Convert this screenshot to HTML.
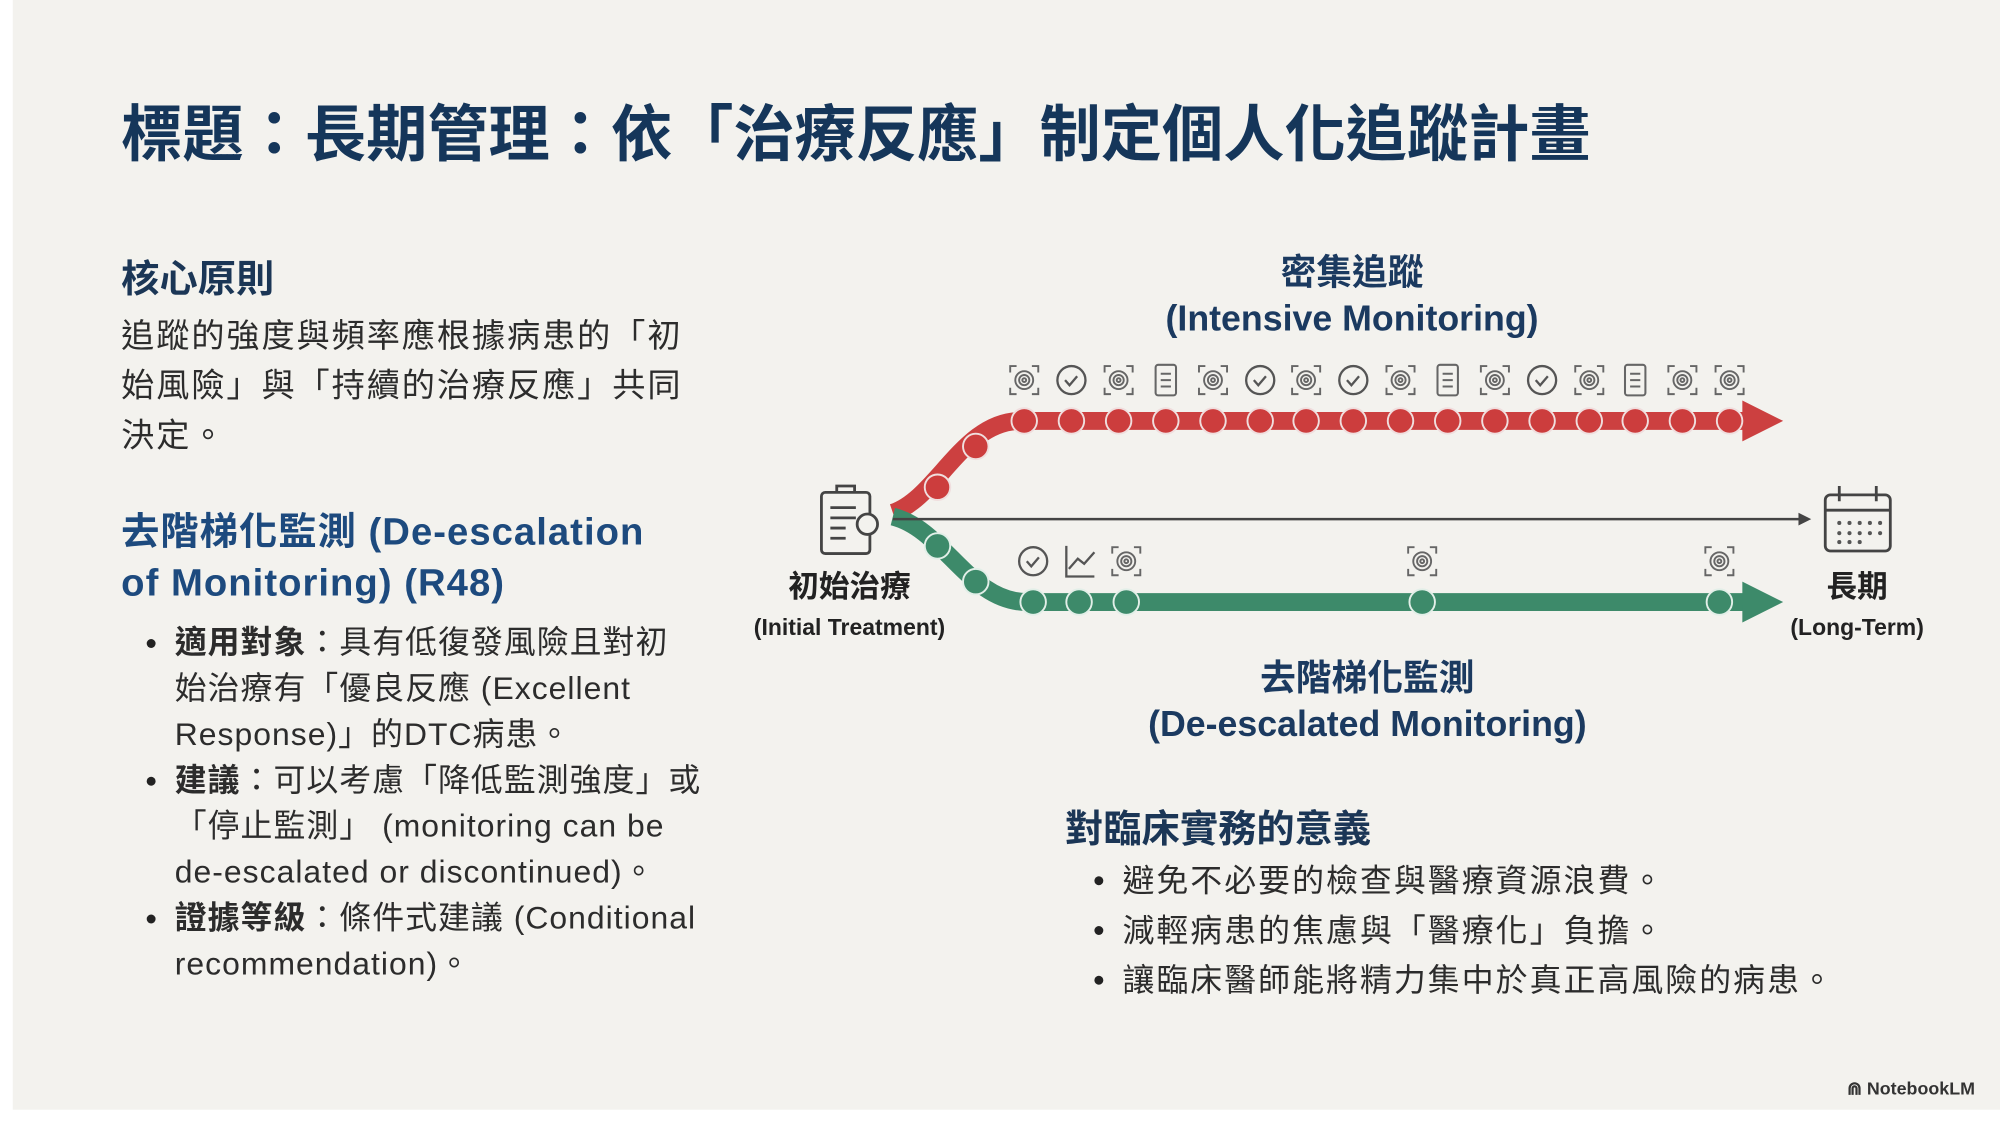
<!DOCTYPE html>
<html><head><meta charset="utf-8">
<style>
html,body{margin:0;padding:0;width:2000px;height:1126px;overflow:hidden;background:#fff;}
#s{position:absolute;left:0;top:0;width:1568px;height:883px;transform:scale(1.27551);transform-origin:0 0;font-family:"Liberation Sans","Noto Sans CJK TC",sans-serif;}
#bg{position:absolute;left:10px;top:0;width:1558px;height:870px;background:#f3f2ee;}
.t{position:absolute;white-space:nowrap;}
.navy{color:#1b3656;font-weight:bold;}
.body{color:#2c2c2c;font-size:26px;letter-spacing:1.5px;}
.ul{position:absolute;margin:0;padding:0;list-style:none;color:#2c2c2c;font-size:25px;line-height:36px;letter-spacing:0.8px;}
.ul li{position:relative;padding-left:22px;}
.ul li:before{content:"";position:absolute;left:0;top:15px;width:7px;height:7px;border-radius:50%;background:#222;}
</style></head><body>
<div id="s">
<div id="bg"></div>
<div class="t navy" style="left:95px;top:66px;font-size:48px;color:#15365a;">標題：長期管理：依「治療反應」制定個人化追蹤計畫</div>
<div class="t navy" style="left:95px;top:194px;font-size:30px;">核心原則</div>
<div class="t body" style="left:95px;top:244px;line-height:39px;">追蹤的強度與頻率應根據病患的「初<br>始風險」與「持續的治療反應」共同<br>決定。</div>
<div class="t navy" style="left:95px;top:398px;font-size:30px;line-height:40px;color:#1d4a7e;letter-spacing:0.8px;">去階梯化監測 (De-escalation<br>of Monitoring) (R48)</div>
<ul class="ul" style="left:115px;top:486px;width:470px;">
<li><b>適用對象</b>：具有低復發風險且對初<br>始治療有「優良反應 (Excellent<br>Response)」的DTC病患。</li>
<li><b>建議</b>：可以考慮「降低監測強度」或<br>「停止監測」 (monitoring can be<br>de-escalated or discontinued)。</li>
<li><b>證據等級</b>：條件式建議 (Conditional<br>recommendation)。</li>
</ul>
<div class="t navy" style="left:860px;top:196px;width:400px;text-align:center;font-size:28px;line-height:36px;color:#1b3a60;">密集追蹤<br>(Intensive Monitoring)</div>
<div class="t navy" style="left:872px;top:514px;width:400px;text-align:center;font-size:28px;line-height:36px;color:#1b3a60;">去階梯化監測<br>(De-escalated Monitoring)</div>
<div class="t" style="left:566px;top:446px;width:200px;text-align:center;font-size:24px;font-weight:bold;color:#222;line-height:30px;">初始治療<br><span style="font-size:18px;">(Initial Treatment)</span></div>
<div class="t" style="left:1356px;top:446px;width:200px;text-align:center;font-size:24px;font-weight:bold;color:#222;line-height:30px;">長期<br><span style="font-size:18px;">(Long-Term)</span></div>
<div class="t navy" style="left:835px;top:625px;font-size:30px;">對臨床實務的意義</div>
<ul class="ul" style="left:858px;top:672px;line-height:39px;letter-spacing:1.6px;">
<li>避免不必要的檢查與醫療資源浪費。</li>
<li>減輕病患的焦慮與「醫療化」負擔。</li>
<li>讓臨床醫師能將精力集中於真正高風險的病患。</li>
</ul>
<div class="t" style="left:1448px;top:845px;font-size:14px;font-weight:bold;color:#333;">⋒ NotebookLM</div>
<svg style="position:absolute;left:0;top:0" width="1568" height="883" viewBox="0 0 1568 883">
<defs>
<g id="fp" fill="none" stroke="#666" stroke-width="1.5"><path d="M-11,-6v-5h5M6,-11h5v5M11,6v5h-5M-6,11h-5v-5"/><circle r="7"/><circle r="4"/><circle r="1.5"/></g>
<g id="ck" fill="none" stroke="#555" stroke-width="1.8"><circle r="11"/><path d="M-5,0l3.5,4 6-7"/></g>
<g id="dc" fill="none" stroke="#666" stroke-width="1.6"><rect x="-8" y="-12" width="16" height="24" rx="2"/><path d="M-4,-5h8M-4,0h8M-4,5h8"/></g>
<g id="rd"><circle r="10" fill="#cc3d3d" stroke="#f0dede" stroke-width="1.5"/></g>
<g id="gd"><circle r="10" fill="#3d8a6a" stroke="#e2efe8" stroke-width="1.5"/></g>
</defs>
<path d="M700,402 C735,390 755,330 800,330 L1372,330" fill="none" stroke="#cc4040" stroke-width="14"/>
<polygon points="1366,314 1398,330 1366,346" fill="#cc4040"/>
<g>
<use href="#rd" x="735" y="382"/><use href="#rd" x="765" y="350"/>
<use href="#rd" x="803" y="330"/><use href="#rd" x="840" y="330"/><use href="#rd" x="877" y="330"/><use href="#rd" x="914" y="330"/><use href="#rd" x="951" y="330"/><use href="#rd" x="988" y="330"/><use href="#rd" x="1024" y="330"/><use href="#rd" x="1061" y="330"/><use href="#rd" x="1098" y="330"/><use href="#rd" x="1135" y="330"/><use href="#rd" x="1172" y="330"/><use href="#rd" x="1209" y="330"/><use href="#rd" x="1246" y="330"/><use href="#rd" x="1282" y="330"/><use href="#rd" x="1319" y="330"/><use href="#rd" x="1356" y="330"/>
</g>
<g>
<use href="#fp" x="803" y="298"/><use href="#ck" x="840" y="298"/><use href="#fp" x="877" y="298"/><use href="#dc" x="914" y="298"/><use href="#fp" x="951" y="298"/><use href="#ck" x="988" y="298"/><use href="#fp" x="1024" y="298"/><use href="#ck" x="1061" y="298"/><use href="#fp" x="1098" y="298"/><use href="#dc" x="1135" y="298"/><use href="#fp" x="1172" y="298"/><use href="#ck" x="1209" y="298"/><use href="#fp" x="1246" y="298"/><use href="#dc" x="1282" y="298"/><use href="#fp" x="1319" y="298"/><use href="#fp" x="1356" y="298"/>
</g>
<path d="M700,405 C740,415 760,472 805,472 L1372,472" fill="none" stroke="#3d8a6a" stroke-width="14"/>
<polygon points="1366,456 1398,472 1366,488" fill="#3d8a6a"/>
<use href="#gd" x="735" y="428"/><use href="#gd" x="765" y="456"/>
<use href="#gd" x="810" y="472"/><use href="#gd" x="846" y="472"/><use href="#gd" x="883" y="472"/><use href="#gd" x="1115" y="472"/><use href="#gd" x="1348" y="472"/>
<use href="#ck" x="810" y="440"/>
<g fill="none" stroke="#555" stroke-width="1.8"><path d="M836,428v24h22M838,446l7-8 5,4 8-9"/></g>
<use href="#fp" x="883" y="440"/><use href="#fp" x="1115" y="440"/><use href="#fp" x="1348" y="440"/>
<line x1="700" y1="407" x2="1412" y2="407" stroke="#444" stroke-width="2"/>
<polygon points="1410,402 1420,407 1410,412" fill="#444"/>
<g fill="none" stroke="#444" stroke-width="2.2">
<rect x="644" y="386" width="38" height="48" rx="3"/>
<path d="M656,386v-5h14v5M651,398h20M651,406h20M651,414h12M651,422h12"/>
<circle cx="680" cy="411" r="8" fill="#f3f2ee"/>
</g>
<g fill="none" stroke="#444" stroke-width="2.2">
<rect x="1431" y="388" width="51" height="44" rx="4"/>
<path d="M1431,400h51M1442,381v12M1471,381v12"/>
</g>
<g fill="#555"><circle cx="1442" cy="410" r="1.6"/><circle cx="1450" cy="410" r="1.6"/><circle cx="1458" cy="410" r="1.6"/><circle cx="1466" cy="410" r="1.6"/><circle cx="1474" cy="410" r="1.6"/><circle cx="1442" cy="418" r="1.6"/><circle cx="1450" cy="418" r="1.6"/><circle cx="1458" cy="418" r="1.6"/><circle cx="1466" cy="418" r="1.6"/><circle cx="1474" cy="418" r="1.6"/><circle cx="1442" cy="425" r="1.6"/><circle cx="1450" cy="425" r="1.6"/><circle cx="1458" cy="425" r="1.6"/></g>
</svg>
</div>
</body></html>
